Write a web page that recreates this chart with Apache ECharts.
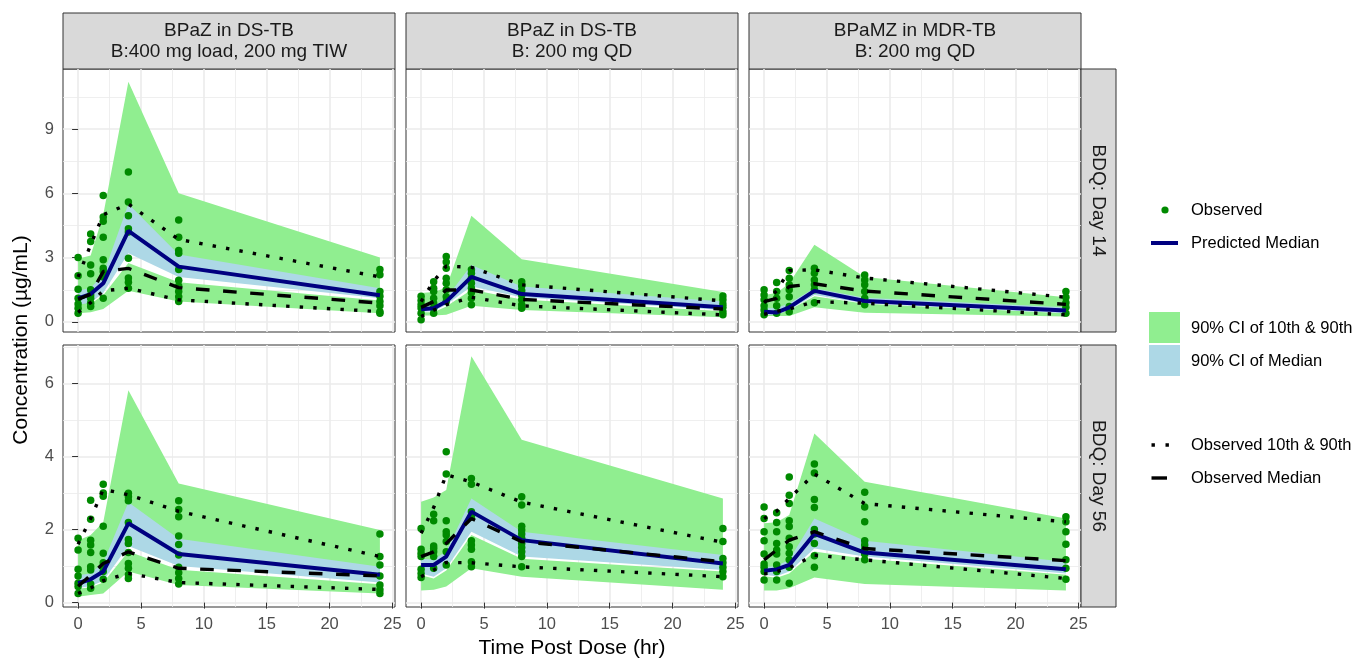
<!DOCTYPE html>
<html>
<head>
<meta charset="utf-8">
<title>Bedaquiline VPC</title>
<script src="https://cdn.jsdelivr.net/npm/echarts@6/dist/echarts.min.js"></script>
<style>
  html, body { margin: 0; padding: 0; background: #ffffff; }
  #chart { width: 1353px; height: 658px; }
</style>
</head>
<body>
<div id="chart"></div>
<script>
// ---- data -------------------------------------------------------------
// Nominal sampling times (hr post dose)
const times = [0, 1, 2, 4, 8, 24];

const xTicks = [0, 5, 10, 15, 20, 25];
const xMinorTicks = [2.5, 7.5, 12.5, 17.5, 22.5];
const yTicksDay14 = [0, 3, 6, 9];
const yMinorDay14 = [1.5, 4.5, 7.5, 10.5];
const yTicksDay56 = [0, 2, 4, 6];
const yMinorDay56 = [1, 3, 5, 7];

const regimens = [
  'BPaZ in DS-TB\nB:400 mg load, 200 mg TIW',
  'BPaZ in DS-TB\nB: 200 mg QD',
  'BPaMZ in MDR-TB\nB: 200 mg QD'
];
const visits = ['BDQ: Day 14', 'BDQ: Day 56'];

// Panel order: Day 14 (TIW, QD, MDR), then Day 56 (TIW, QD, MDR)
const predMedian = [
  [1.1, 1.3, 1.8, 4.25, 2.58, 1.24],
  [0.59, 0.64, 0.95, 2.1, 1.3, 0.68],
  [0.48, 0.44, 0.68, 1.45, 0.98, 0.53],
  [0.53, 0.64, 0.85, 2.17, 1.33, 0.76],
  [1.03, 1.03, 1.26, 2.49, 1.71, 1.07],
  [0.87, 0.91, 1.03, 1.88, 1.37, 0.91]
];
const medianCiLo = [
  [0.8, 0.9, 1.35, 3.2, 2.1, 1.1],
  [0.48, 0.5, 0.8, 1.65, 1.15, 0.56],
  [0.33, 0.35, 0.56, 1.26, 0.87, 0.4],
  [0.4, 0.45, 0.6, 1.55, 1.0, 0.55],
  [0.8, 0.71, 0.94, 1.94, 1.26, 0.89],
  [0.76, 0.72, 0.85, 1.48, 1.26, 0.8]
];
const medianCiHi = [
  [1.45, 1.6, 2.2, 5.5, 3.15, 1.57],
  [0.68, 0.75, 1.1, 2.66, 1.65, 0.95],
  [0.64, 0.65, 0.87, 1.57, 1.13, 0.68],
  [0.75, 0.8, 1.1, 2.75, 1.75, 0.98],
  [1.2, 1.18, 1.4, 2.85, 1.94, 1.3],
  [0.97, 1.0, 1.17, 2.3, 1.69, 1.12]
];
const p10CiLo = [
  [0.4, 0.45, 0.6, 1.45, 0.95, 0.4],
  [0.3, 0.3, 0.33, 0.75, 0.56, 0.22],
  [0.28, 0.28, 0.28, 0.68, 0.43, 0.25],
  [0.16, 0.21, 0.25, 0.85, 0.48, 0.25],
  [0.33, 0.35, 0.44, 0.94, 0.71, 0.35],
  [0.33, 0.33, 0.39, 0.69, 0.51, 0.33]
];
const p10CiHi = [
  [1.0, 0.85, 1.25, 2.75, 1.85, 1.0],
  [0.45, 0.45, 0.72, 1.5, 1.05, 0.5],
  [0.33, 0.35, 0.56, 1.2, 0.85, 0.4],
  [0.38, 0.42, 0.55, 1.4, 0.9, 0.5],
  [0.75, 0.66, 0.88, 1.85, 1.2, 0.85],
  [0.72, 0.68, 0.8, 1.4, 1.2, 0.76]
];
const p90CiLo = [
  [1.0, 1.1, 1.6, 4.0, 2.6, 1.3],
  [0.6, 0.6, 0.9, 2.0, 1.3, 0.7],
  [0.5, 0.5, 0.7, 1.45, 1.0, 0.6],
  [0.6, 0.65, 0.9, 2.0, 1.3, 0.8],
  [1.0, 1.0, 1.2, 2.4, 1.7, 1.1],
  [0.9, 0.95, 1.05, 2.0, 1.4, 0.95]
];
const p90CiHi = [
  [2.95, 3.1, 5.0, 11.2, 6.0, 3.0],
  [1.35, 1.4, 1.6, 4.95, 2.92, 1.4],
  [1.26, 1.35, 1.8, 3.6, 2.1, 1.15],
  [1.7, 1.85, 2.2, 5.81, 3.26, 1.99],
  [2.76, 2.88, 3.08, 6.74, 4.46, 2.85],
  [2.17, 2.2, 2.4, 4.63, 3.31, 2.3]
];
const obsMedian = [
  [1.05, 1.3, 2.35, 2.5, 1.6, 0.88],
  [0.68, 0.95, 1.49, 1.49, 1.05, 0.6],
  [0.95, 1.1, 1.65, 1.78, 1.44, 0.82],
  [0.45, 0.75, 1.07, 1.39, 0.94, 0.73],
  [1.26, 1.39, 1.62, 2.3, 1.67, 1.12],
  [1.17, 1.44, 1.71, 1.94, 1.48, 1.15]
];
const obsP10 = [
  [0.45, 0.9, 1.45, 1.57, 1.03, 0.48],
  [0.25, 0.55, 0.8, 1.15, 0.75, 0.33],
  [0.35, 0.5, 0.6, 0.95, 0.87, 0.33],
  [0.25, 0.4, 0.6, 0.8, 0.55, 0.36],
  [0.71, 0.89, 1.1, 1.09, 0.98, 0.71],
  [0.78, 0.85, 0.95, 1.3, 1.17, 0.66]
];
const obsP90 = [
  [2.1, 3.6, 5.0, 5.5, 3.85, 2.1],
  [0.95, 1.9, 2.6, 2.55, 1.73, 0.98],
  [0.9, 1.45, 2.4, 2.43, 2.05, 1.15],
  [1.6, 2.3, 3.1, 2.95, 2.5, 1.26],
  [1.9, 2.6, 3.5, 3.3, 2.75, 1.65],
  [2.3, 2.5, 2.85, 3.52, 2.71, 2.21]
];
// Observed concentrations, one list per sampling time
const observed = [
  [
    [3.0, 2.15, 1.52, 1.1, 0.84, 0.64, 0.4],
    [4.1, 3.75, 2.65, 2.25, 1.5, 1.26, 1.1, 0.87, 0.72],
    [5.9, 4.9, 4.7, 3.95, 2.9, 2.5, 2.35, 2.1, 1.1],
    [7.0, 5.6, 4.95, 4.35, 4.2, 2.97, 2.05, 1.85, 1.57],
    [4.75, 3.95, 3.33, 3.2, 2.45, 1.95, 1.68, 1.42, 1.18, 0.95],
    [2.45, 2.2, 1.42, 1.2, 0.95, 0.75, 0.48, 0.4]
  ],
  [
    [1.2, 1.0, 0.8, 0.65, 0.4, 0.1],
    [1.88, 1.57, 1.42, 1.1, 0.87, 0.64, 0.4],
    [3.05, 2.8, 2.5, 2.04, 1.8, 1.5, 1.18, 0.95],
    [2.43, 2.27, 2.04, 1.8, 1.57, 1.37, 1.1, 0.8],
    [1.88, 1.68, 1.46, 1.26, 1.03, 0.8, 0.64],
    [1.21, 1.03, 0.84, 0.68, 0.48, 0.33]
  ],
  [
    [1.5, 1.26, 1.03, 0.75, 0.56, 0.33],
    [1.84, 1.42, 1.1, 0.75, 0.4],
    [2.4, 2.04, 1.73, 1.5, 1.18, 0.72, 0.48],
    [2.5, 2.27, 1.96, 1.73, 1.5, 0.9],
    [2.19, 1.96, 1.73, 1.42, 1.1, 0.8],
    [1.42, 1.15, 0.9, 0.68, 0.4]
  ],
  [
    [1.76, 1.44, 0.91, 0.73, 0.53, 0.44, 0.25],
    [2.8, 2.28, 1.71, 1.58, 1.37, 0.98, 0.89, 0.51, 0.39],
    [3.24, 3.0, 2.91, 2.09, 1.35, 1.09, 0.98, 0.85, 0.64],
    [2.99, 2.9, 2.79, 2.19, 1.73, 1.62, 1.37, 1.07, 0.94, 0.76, 0.66],
    [2.79, 2.55, 2.35, 1.82, 1.59, 1.3, 0.97, 0.82, 0.66, 0.51],
    [1.88, 1.26, 1.03, 0.73, 0.48, 0.35, 0.25]
  ],
  [
    [2.03, 1.46, 1.35, 1.26, 0.91, 0.8, 0.69],
    [2.42, 2.24, 1.55, 1.48, 1.39, 1.26, 0.94],
    [4.13, 3.52, 2.24, 1.94, 1.85, 1.67, 1.39, 1.03],
    [3.4, 3.24, 2.49, 2.35, 1.69, 1.58, 1.46, 1.12, 0.98],
    [2.9, 2.67, 2.09, 1.99, 1.88, 1.76, 1.62, 1.51, 1.39, 1.26, 0.98],
    [2.03, 1.67, 1.21, 1.09, 0.97, 0.85, 0.71]
  ],
  [
    [2.62, 2.3, 1.94, 1.69, 1.33, 1.06, 0.97, 0.85, 0.62],
    [2.46, 2.19, 1.94, 1.62, 1.44, 1.33, 1.03, 0.85, 0.62],
    [3.44, 2.94, 2.71, 2.24, 2.08, 1.76, 1.53, 1.35, 1.17, 0.97, 0.53],
    [3.79, 3.55, 2.82, 2.6, 2.0, 1.88, 1.62, 1.28, 0.97],
    [3.02, 2.62, 2.21, 1.69, 1.58, 1.46, 1.33, 1.17],
    [2.35, 2.21, 1.94, 1.6, 1.17, 0.94, 0.64]
  ]
];

// ---- layout & styles --------------------------------------------------
const FONT = "'Liberation Sans', Arial, sans-serif";
const colLeft = [63, 406, 749];
const panelW = 332;
const rowTop = [69, 345];
const panelH = [263, 262];
const yExtent = [[-0.47, 11.8], [-0.12, 7.05]];
const xExtent = [-1.2, 25.2];

const C_GREEN_BAND = '#90EE90';
const C_BLUE_BAND = '#ADD8E6';
const C_PRED = '#000080';
const C_DOT = '#008A00';
const C_GRID = '#EBEBEB';
const C_BORDER = '#333333';
const C_TICKTEXT = '#4D4D4D';
const DOTTED = [3.4, 10.2];
const DASHED = [13.6, 13.6];

const grids = [], xAxes = [], yAxes = [], series = [], graphics = [];

function ribbon(p, lo, hi, color, name) {
  return {
    type: 'custom', name: name, silent: true,
    xAxisIndex: 2 * p, yAxisIndex: 2 * p,
    data: [[times[0], lo[0]]],
    renderItem: function (params, api) {
      const pts = [];
      for (let i = 0; i < times.length; i++) pts.push(api.coord([times[i], hi[i]]));
      for (let i = times.length - 1; i >= 0; i--) pts.push(api.coord([times[i], lo[i]]));
      return { type: 'polygon', shape: { points: pts }, style: { fill: color } };
    }
  };
}

function curve(p, vals, name, style) {
  return {
    type: 'line', name: name, silent: true,
    xAxisIndex: 2 * p, yAxisIndex: 2 * p,
    data: times.map((t, i) => [t, vals[i]]),
    symbol: 'none', showSymbol: false,
    lineStyle: style
  };
}

for (let p = 0; p < 6; p++) {
  const r = Math.floor(p / 3), c = p % 3;
  const yMajor = r === 0 ? yTicksDay14 : yTicksDay56;
  const yMinor = r === 0 ? yMinorDay14 : yMinorDay56;

  grids.push({
    left: colLeft[c], top: rowTop[r], width: panelW, height: panelH[r],
    show: true, borderColor: C_BORDER, borderWidth: 1, backgroundColor: '#ffffff',
    containLabel: false, outerBoundsMode: 'none'
  });

  // major x axis (labels, ticks, major grid)
  xAxes.push({
    gridIndex: p, type: 'value', min: xExtent[0], max: xExtent[1],
    axisLine: { show: false },
    axisTick: { show: r === 1, customValues: xTicks, length: 6, lineStyle: { color: C_BORDER, width: 1 } },
    axisLabel: { show: r === 1, customValues: xTicks, margin: 9, color: C_TICKTEXT, fontSize: 16.5, fontFamily: FONT },
    splitLine: { show: true, lineStyle: { color: C_GRID, width: 1.6 } }
  });
  // minor x grid
  xAxes.push({
    gridIndex: p, type: 'value', min: xExtent[0], max: xExtent[1],
    axisLine: { show: false },
    axisTick: { show: false, customValues: xMinorTicks },
    axisLabel: { show: false, customValues: xMinorTicks },
    splitLine: { show: true, lineStyle: { color: C_GRID, width: 0.8 } }
  });
  // major y axis
  yAxes.push({
    gridIndex: p, type: 'value', min: yExtent[r][0], max: yExtent[r][1],
    axisLine: { show: false },
    axisTick: { show: c === 0, customValues: yMajor, length: 6, lineStyle: { color: C_BORDER, width: 1 } },
    axisLabel: { show: c === 0, customValues: yMajor, margin: 9, color: C_TICKTEXT, fontSize: 16.5, fontFamily: FONT },
    splitLine: { show: true, lineStyle: { color: C_GRID, width: 1.6 } }
  });
  // minor y grid
  yAxes.push({
    gridIndex: p, type: 'value', min: yExtent[r][0], max: yExtent[r][1],
    axisLine: { show: false },
    axisTick: { show: false, customValues: yMinor },
    axisLabel: { show: false, customValues: yMinor },
    splitLine: { show: true, lineStyle: { color: C_GRID, width: 0.8 } }
  });

  // prediction intervals
  series.push(ribbon(p, p10CiLo[p], p10CiHi[p], C_GREEN_BAND, '90% CI of 10th & 90th'));
  series.push(ribbon(p, p90CiLo[p], p90CiHi[p], C_GREEN_BAND, '90% CI of 10th & 90th'));
  series.push(ribbon(p, medianCiLo[p], medianCiHi[p], C_BLUE_BAND, '90% CI of Median'));

  // predicted and observed summaries
  series.push(curve(p, predMedian[p], 'Predicted Median', { color: C_PRED, width: 4 }));
  series.push(curve(p, obsP10[p], 'Observed 10th & 90th', { color: '#000', width: 3.4, type: DOTTED, cap: 'butt' }));
  series.push(curve(p, obsP90[p], 'Observed 10th & 90th', { color: '#000', width: 3.4, type: DOTTED, cap: 'butt' }));
  series.push(curve(p, obsMedian[p], 'Observed Median', { color: '#000', width: 3.4, type: DASHED, cap: 'butt' }));

  // observed concentrations
  const pts = [];
  observed[p].forEach((vals, i) => vals.forEach(v => pts.push([times[i], v])));
  series.push({
    type: 'scatter', name: 'Observed', silent: true,
    xAxisIndex: 2 * p, yAxisIndex: 2 * p,
    data: pts, symbol: 'circle', symbolSize: 7.5,
    itemStyle: { color: C_DOT, opacity: 1 }
  });
}

// facet strips
for (let c = 0; c < 3; c++) {
  graphics.push({
    type: 'rect', shape: { x: colLeft[c], y: 13, width: panelW, height: 56 },
    style: { fill: '#D9D9D9', stroke: C_BORDER, lineWidth: 1 }
  });
  graphics.push({
    type: 'text', x: colLeft[c] + panelW / 2, y: 41.5,
    style: { text: regimens[c], font: '19px ' + FONT, fill: '#1A1A1A',
             align: 'center', verticalAlign: 'middle', textAlign: 'center', textVerticalAlign: 'middle', lineHeight: 21 }
  });
}
for (let r = 0; r < 2; r++) {
  graphics.push({
    type: 'rect', shape: { x: 1081, y: rowTop[r], width: 35, height: panelH[r] },
    style: { fill: '#D9D9D9', stroke: C_BORDER, lineWidth: 1 }
  });
  graphics.push({
    type: 'text', x: 1098.5, y: rowTop[r] + panelH[r] / 2, rotation: -Math.PI / 2,
    style: { text: visits[r], font: '19px ' + FONT, fill: '#1A1A1A',
             align: 'center', verticalAlign: 'middle', textAlign: 'center', textVerticalAlign: 'middle' }
  });
}

// axis titles
graphics.push({
  type: 'text', x: 21, y: 340, rotation: Math.PI / 2,
  style: { text: 'Concentration (µg/mL)', font: '21px ' + FONT, fill: '#000',
           align: 'center', verticalAlign: 'middle', textAlign: 'center', textVerticalAlign: 'middle' }
});
graphics.push({
  type: 'text', x: 572, y: 648,
  style: { text: 'Time Post Dose (hr)', font: '21px ' + FONT, fill: '#000',
           align: 'center', verticalAlign: 'middle', textAlign: 'center', textVerticalAlign: 'middle' }
});

// legend
function legendText(label, y) {
  graphics.push({
    type: 'text', x: 1191, y: y,
    style: { text: label, font: '16.5px ' + FONT, fill: '#000',
             align: 'left', verticalAlign: 'middle', textAlign: 'left', textVerticalAlign: 'middle' }
  });
}
graphics.push({ type: 'circle', shape: { cx: 1165, cy: 210, r: 3.6 }, style: { fill: C_DOT } });
legendText('Observed', 210);
graphics.push({ type: 'line', shape: { x1: 1151, y1: 243, x2: 1178, y2: 243 }, style: { stroke: C_PRED, lineWidth: 4 } });
legendText('Predicted Median', 243);
graphics.push({ type: 'rect', shape: { x: 1149, y: 312, width: 31, height: 31 }, style: { fill: C_GREEN_BAND } });
legendText('90% CI of 10th & 90th', 328);
graphics.push({ type: 'rect', shape: { x: 1149, y: 345, width: 31, height: 31 }, style: { fill: C_BLUE_BAND } });
legendText('90% CI of Median', 361);
graphics.push({ type: 'line', shape: { x1: 1151.5, y1: 445, x2: 1169, y2: 445 },
                style: { stroke: '#000', lineWidth: 3.4, lineDash: [3.4, 10.6], lineCap: 'butt' } });
legendText('Observed 10th & 90th', 445);
graphics.push({ type: 'line', shape: { x1: 1151.5, y1: 478, x2: 1167, y2: 478 },
                style: { stroke: '#000', lineWidth: 3.4, lineCap: 'butt' } });
legendText('Observed Median', 478);

const chart = echarts.init(document.getElementById('chart'), null, { renderer: 'canvas' });
chart.setOption({
  animation: false,
  backgroundColor: '#ffffff',
  textStyle: { fontFamily: FONT },
  grid: grids,
  xAxis: xAxes,
  yAxis: yAxes,
  series: series,
  graphic: { elements: graphics }
});
</script>
</body>
</html>
